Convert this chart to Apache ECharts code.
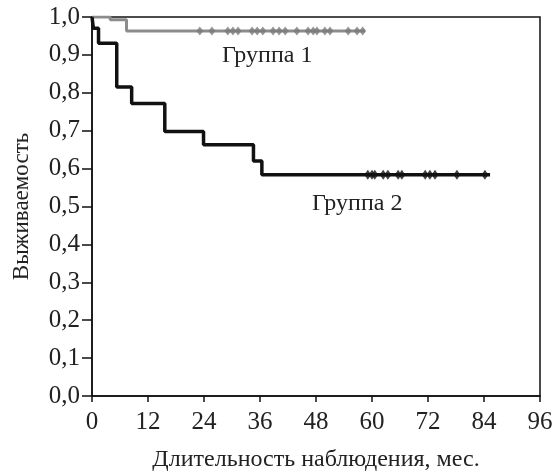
<!DOCTYPE html>
<html>
<head>
<meta charset="utf-8">
<script src="https://cdn.jsdelivr.net/npm/echarts@6/dist/echarts.min.js"></script>
<style>
  html, body { margin: 0; padding: 0; background: #fff; }
  #chart { width: 555px; height: 473px; }
</style>
</head>
<body>
<div id="chart"></div>
<script>
// Группа 1 (серая линия)
var group1Time = [0, 3.9, 7.4, 58.5];
var group1Surv = [1.0, 0.993, 0.963, 0.963];
var group1Censored = [23.1, 25.7, 29.1, 30.2, 31.3, 34.3, 35.4, 36.6, 38.8, 40.1, 41.4, 43.9, 46.3, 47.4, 48.2, 49.9, 51.0, 54.9, 56.8, 58.0];

// Группа 2 (чёрная линия)
var group2Time = [0, 0.3, 1.4, 5.3, 8.5, 15.6, 23.9, 34.6, 36.4, 85.3];
var group2Surv = [1.0, 0.97, 0.931, 0.815, 0.772, 0.698, 0.663, 0.62, 0.584, 0.584];
var group2Censored = [59.1, 60.0, 60.6, 62.4, 63.4, 65.6, 66.4, 71.4, 72.4, 73.5, 78.2, 84.2];

var xTicks = [0, 12, 24, 36, 48, 60, 72, 84, 96];

function pairs(t, s) {
  return t.map(function (v, i) { return [v, s[i]]; });
}
// значение кривой в момент цензурирования
function survAt(t, times, surv) {
  var val = surv[0];
  for (var i = 0; i < times.length; i++) {
    if (times[i] <= t) val = surv[i];
  }
  return val;
}
function censorPoints(c, times, surv) {
  return c.map(function (t) { return [t, survAt(t, times, surv)]; });
}

var font = "Liberation Serif";
var myChart = echarts.init(document.getElementById("chart"));
myChart.setOption({
  animation: false,
  textStyle: { fontFamily: font },
  grid: {
    left: 92,
    right: 15,
    top: 17,
    bottom: 77,
    outerBoundsMode: "none",
    show: true,
    borderColor: "#111",
    borderWidth: 1.5,
  },
  xAxis: {
    type: "value",
    min: 0,
    max: 96,
    interval: 12,
    name: "Длительность наблюдения, мес.",
    nameLocation: "middle",
    nameGap: 52,
    nameTextStyle: { fontFamily: font, fontSize: 24, color: "#222" },
    axisLine: { lineStyle: { color: "#111", width: 1.5 } },
    axisTick: { length: 6, lineStyle: { color: "#111", width: 1.5 } },
    axisLabel: {
      fontFamily: font, fontSize: 25, color: "#222", margin: 14,
      formatter: function (v) { return xTicks.indexOf(v) >= 0 ? String(v) : ""; },
    },
    splitLine: { show: false },
  },
  yAxis: {
    type: "value",
    min: 0,
    max: 1,
    interval: 0.1,
    name: "Выживаемость",
    nameLocation: "middle",
    nameGap: 59,
    nameRotate: 90,
    nameTextStyle: { fontFamily: font, fontSize: 23, color: "#222" },
    axisLine: { lineStyle: { color: "#111", width: 1.5 } },
    axisTick: { length: 10, lineStyle: { color: "#111", width: 1.5 } },
    axisLabel: {
      fontFamily: font, fontSize: 25, color: "#222", margin: 12,
      formatter: function (v) { return v.toFixed(1).replace(".", ","); },
    },
    splitLine: { show: false },
  },
  series: [
    {
      name: "Группа 1",
      type: "line",
      step: "end",
      data: pairs(group1Time, group1Surv),
      symbol: "none",
      lineStyle: { color: "#8c8c8c", width: 3 },
      z: 3,
    },
    {
      name: "Группа 1 цензурированные",
      type: "scatter",
      data: censorPoints(group1Censored, group1Time, group1Surv),
      symbol: "diamond",
      symbolSize: [7, 9],
      itemStyle: { color: "#7a7a7a" },
      z: 4,
    },
    {
      name: "Группа 2",
      type: "line",
      step: "end",
      data: pairs(group2Time, group2Surv),
      symbol: "none",
      lineStyle: { color: "#111", width: 3.5 },
      z: 5,
    },
    {
      name: "Группа 2 цензурированные",
      type: "scatter",
      data: censorPoints(group2Censored, group2Time, group2Surv),
      symbol: "diamond",
      symbolSize: [7, 10],
      itemStyle: { color: "#111" },
      z: 6,
    },
  ],
  graphic: [
    {
      type: "text",
      left: 222,
      top: 44,
      style: { text: "Группа 1", font: "24px " + font, fill: "#222" },
    },
    {
      type: "text",
      left: 312,
      top: 192,
      style: { text: "Группа 2", font: "24px " + font, fill: "#222" },
    },
  ],
});
</script>
</body>
</html>
